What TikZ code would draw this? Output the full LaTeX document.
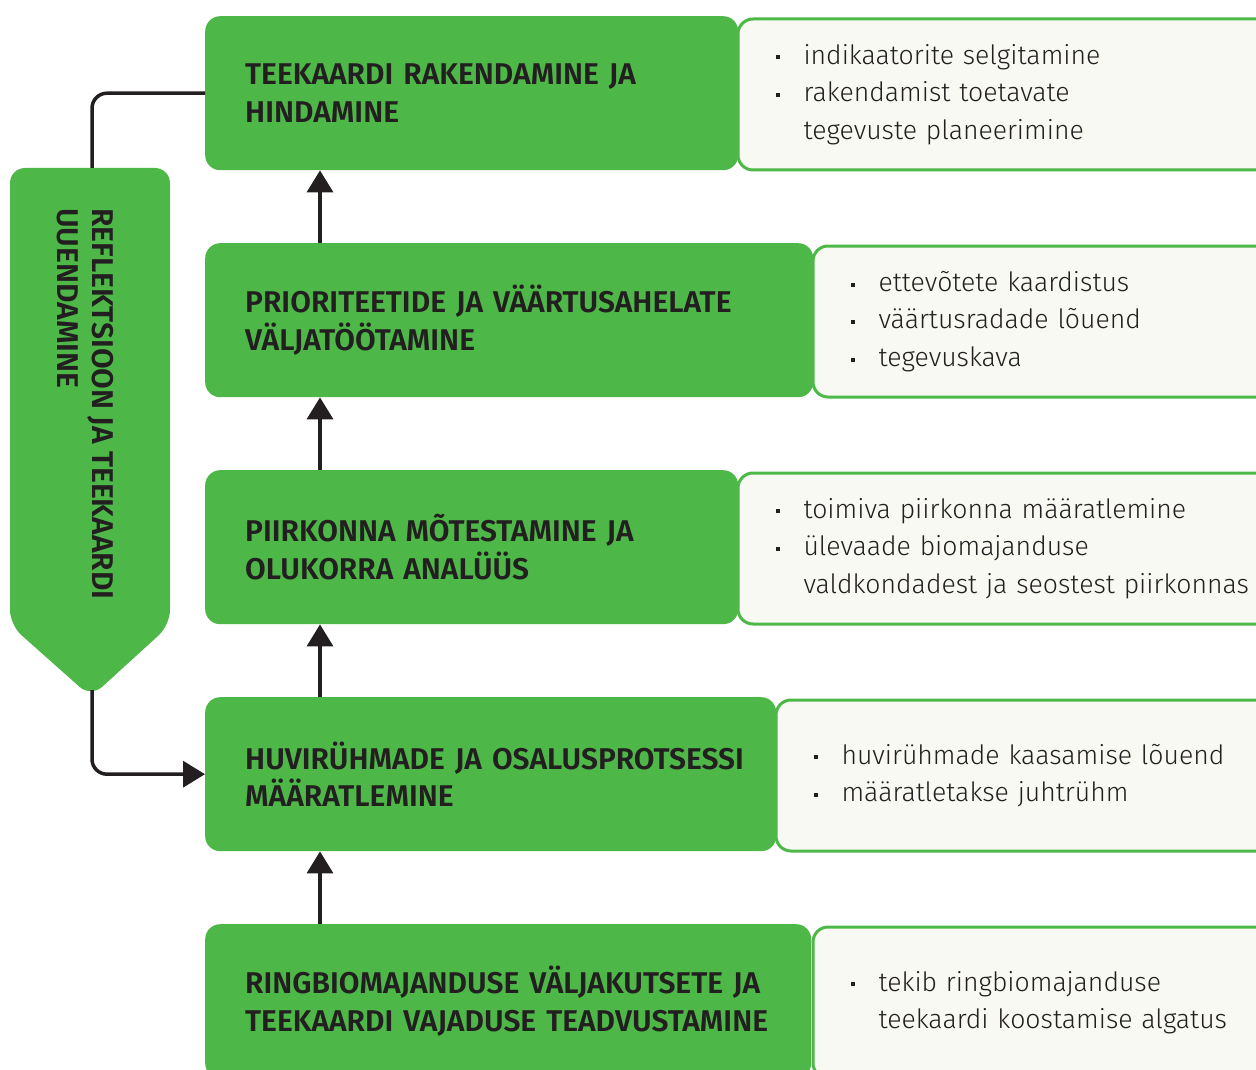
\documentclass[tikz,border=0pt]{standalone}
\usepackage{fontspec}
\setmainfont{Fira Sans}
\newfontfamily\hfont{Fira Sans SemiBold}
\newfontfamily\bfont{Fira Sans Light}
\usetikzlibrary{arrows.meta}
\definecolor{gr}{HTML}{4DB848}
\definecolor{pale}{HTML}{F7F9F2}
\definecolor{ink}{HTML}{231F20}
\newcommand\bl{\makebox[27.5pt][l]{\raisebox{4.8pt}{\rule{4pt}{4pt}}}}
\newcommand\ind{\hspace*{27.5pt}}
\begin{document}
\begin{tikzpicture}[x=1pt,y=-1pt,
  gbox/.style={fill=gr, rounded corners=15pt, anchor=north west, minimum height=154pt,
    inner xsep=40pt, inner ysep=0pt, align=left, text=ink,
    font=\hfont\fontsize{30}{37.5}\selectfont},
  wbox/.style={fill=pale, draw=gr, line width=3pt, rounded corners=15pt, anchor=north west,
    minimum height=151pt, inner xsep=38pt, inner ysep=0pt, align=left, text=ink,
    font=\bfont\fontsize{26.6}{37.5}\selectfont},
  link/.style={draw=ink, line width=3.5pt, rounded corners=15pt},
  arr/.style={draw=ink, line width=3.5pt, -{Triangle[length=22pt,width=26pt]}}]
\useasboundingbox (0,0) rectangle (1256,1070);
\clip (0,0) rectangle (1256,1070);
% green step boxes
\node[gbox, minimum width=533pt, text width=453pt] (g1) at (205,16)
  {\mbox{TEEKAARDI RAKENDAMINE JA}\\\mbox{HINDAMINE}};
\node[gbox, minimum width=608pt, text width=528pt] (g2) at (205,243)
  {\mbox{PRIORITEETIDE JA VÄÄRTUSAHELATE}\\\mbox{VÄLJATÖÖTAMINE}};
\node[gbox, minimum width=533pt, text width=453pt] (g3) at (205,470)
  {\mbox{PIIRKONNA MÕTESTAMINE JA}\\\mbox{OLUKORRA ANALÜÜS}};
\node[gbox, minimum width=571pt, text width=491pt] (g4) at (205,697)
  {\mbox{HUVIRÜHMADE JA OSALUSPROTSESSI}\\\mbox{MÄÄRATLEMINE}};
\node[gbox, minimum width=606pt, text width=526pt] (g5) at (205,924)
  {\mbox{RINGBIOMAJANDUSE VÄLJAKUTSETE JA}\\\mbox{TEEKAARDI VAJADUSE TEADVUSTAMINE}};
% pale detail boxes
\node[wbox, minimum width=560pt, text width=484pt] (w1) at (736.5,17.5)
  {\bl indikaatorite selgitamine\\\bl rakendamist toetavate\\\ind tegevuste planeerimine};
\node[wbox, minimum width=500pt, text width=424pt] (w2) at (811.5,244.5)
  {\bl ettevõtete kaardistus\\\bl väärtusradade lõuend\\\bl tegevuskava};
\node[wbox, minimum width=560pt, text width=484pt] (w3) at (736.5,471.5)
  {\bl toimiva piirkonna määratlemine\\\bl ülevaade biomajanduse\\\ind valdkondadest ja seostest piirkonnas};
\node[wbox, minimum width=520pt, text width=444pt] (w4) at (774.5,698.5)
  {\bl huvirühmade kaasamise lõuend\\\bl määratletakse juhtrühm};
\node[wbox, minimum width=500pt, text width=424pt] (w5) at (811.5,925.5)
  {\bl tekib ringbiomajanduse\\\ind teekaardi koostamise algatus};
% side banner
\fill[gr, rounded corners=15pt] (10,168) -- (170,168) -- (170,625) -- (91,697) -- (10,625) -- cycle;
\coordinate (stop) at (92,168);
\coordinate (sbot) at (92,690);
\node[rotate=-90, anchor=north west, inner sep=0pt, align=left, text=ink,
  font=\hfont\fontsize{30}{35}\selectfont] (stext) at (114,208)
  {REFLEKTSIOON JA TEEKAARDI\\UUENDAMINE};
% connectors
\coordinate (ax) at (320,0);
\draw[link] (g1.west) -| (stop);
\draw[link, arr] (sbot) |- (g4.west);
\draw[arr] (g2.north -| ax) -- (g1.south -| ax);
\draw[arr] (g3.north -| ax) -- (g2.south -| ax);
\draw[arr] (g4.north -| ax) -- (g3.south -| ax);
\draw[arr] (g5.north -| ax) -- (g4.south -| ax);
\end{tikzpicture}
\end{document}
